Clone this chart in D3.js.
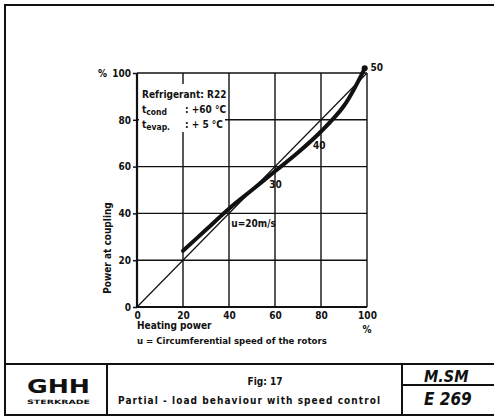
<!doctype html>
<html lang="en">
<head>
<meta charset="utf-8">
<title>Partial-load behaviour</title>
<script src="https://cdn.jsdelivr.net/npm/d3@7"></script>
<style>
  body { margin: 0; background: #fff; }
  text { font-family: "DejaVu Sans Condensed", "DejaVu Sans", sans-serif; fill: #111; }
</style>
</head>
<body>
<svg id="chart" width="494" height="418"></svg>
<script>
// data
var heatingPower = [20, 30, 40, 50, 60, 70, 80, 90, 99];
var couplingPower = [24, 33, 42, 50, 58, 66, 75, 86, 102];
var diagonal = [0, 100];
var tickValues = [0, 20, 40, 60, 80, 100];
var speedLabels = ["u=20m/s", "30", "40", "50"];
var speedLabelX = [41, 57.5, 76.5, 101.5];
var speedLabelY = [34, 51, 67.5, 101];
var infoLines = ["Refrigerant: R22", "t", "t"];

var svg = d3.select("#chart");
var ink = "#111";

// outer frame and title block
svg.append("path")
  .attr("d", "M4,5H494 M5,5V416 M5,364H494 M5,415H494 M107,364V415 M402,364V415 M402,385H494")
  .attr("fill", "none").attr("stroke", ink).attr("stroke-width", 2);

var x = d3.scaleLinear().domain([0, 100]).range([137, 367]);
var y = d3.scaleLinear().domain([0, 100]).range([307, 73]);

// grid
var g = svg.append("g");
tickValues.forEach(function(t) {
  g.append("line").attr("x1", x(t)).attr("x2", x(t)).attr("y1", y(0)).attr("y2", y(100))
    .attr("stroke", ink).attr("stroke-width", t == 0 ? 2.2 : 1.4);
  g.append("line").attr("x1", x(0)).attr("x2", x(100)).attr("y1", y(t)).attr("y2", y(t))
    .attr("stroke", ink).attr("stroke-width", t == 0 ? 2.2 : 1.4);
});

// axes ticks + labels
var yAxis = d3.axisLeft(y).tickValues(tickValues).tickSize(4).tickPadding(2);
var yG = svg.append("g").attr("transform", "translate(" + x(0) + ",0)").call(yAxis);
var xAxis = d3.axisBottom(x).tickValues(tickValues).tickSize(0).tickPadding(5);
var xG = svg.append("g").attr("transform", "translate(0," + y(0) + ")").call(xAxis);
[yG, xG].forEach(function(a) {
  a.select(".domain").remove();
  a.selectAll("line").attr("stroke", ink).attr("stroke-width", 1.5);
  a.selectAll("text").style("font-size", "10px").style("font-weight", "bold")
    .style("font-family", "'DejaVu Sans Condensed', sans-serif").attr("fill", ink);
});
svg.append("text").attr("x", 98).attr("y", y(100) + 4).style("font-size", "10px").style("font-weight", "bold").text("%");
svg.append("text").attr("x", x(100)).attr("y", y(0) + 26).attr("text-anchor", "middle").style("font-size", "10px").style("font-weight", "bold").text("%");

svg.append("text").attr("transform", "translate(111,248) rotate(-90)")
  .attr("text-anchor", "middle").style("font-size", "10px").style("font-weight", "bold").text("Power at coupling");
svg.append("text").attr("x", 137).attr("y", 329).style("font-size", "10px").style("font-weight", "bold").text("Heating power");
svg.append("text").attr("x", 137).attr("y", 344).style("font-size", "9.5px").style("font-weight", "bold").text("u = Circumferential speed of the rotors");

// info box
svg.append("rect").attr("x", 139).attr("y", 84).attr("width", 86).attr("height", 48).attr("fill", "#fff");
var info = svg.append("g").style("font-size", "10px").style("font-weight", "bold");
info.append("text").attr("x", 142).attr("y", 98).text(infoLines[0]);
var t1 = info.append("text").attr("x", 142).attr("y", 113);
t1.append("tspan").text(infoLines[1]);
t1.append("tspan").attr("dy", 2).style("font-size", "8.5px").text("cond");
t1.append("tspan").attr("x", 185).attr("dy", -2).text(": +60 \u00b0C");
var t2 = info.append("text").attr("x", 142).attr("y", 128);
t2.append("tspan").text(infoLines[2]);
t2.append("tspan").attr("dy", 2).style("font-size", "8.5px").text("evap.");
t2.append("tspan").attr("x", 185).attr("dy", -2).text(": +  5 \u00b0C");

// diagonal reference
svg.append("line").attr("x1", x(diagonal[0])).attr("y1", y(diagonal[0]))
  .attr("x2", x(diagonal[1])).attr("y2", y(diagonal[1]))
  .attr("stroke", ink).attr("stroke-width", 1.2);

// partial load curve
var line = d3.line().x(function(d, i) { return x(heatingPower[i]); })
  .y(function(d) { return y(d); }).curve(d3.curveCatmullRom);
svg.append("path").attr("d", line(couplingPower))
  .attr("fill", "none").attr("stroke", ink).attr("stroke-width", 4).attr("stroke-linecap", "round");
svg.append("circle").attr("cx", x(heatingPower[heatingPower.length - 1])).attr("cy", y(couplingPower[couplingPower.length - 1]))
  .attr("r", 3).attr("fill", ink);

svg.append("g").selectAll("text").data(speedLabels).enter().append("text")
  .attr("x", function(d, i) { return x(speedLabelX[i]); })
  .attr("y", function(d, i) { return y(speedLabelY[i]); })
  .style("font-size", "10px").style("font-weight", "bold").text(function(d) { return d; });

// title block text
svg.append("text").attr("x", 27).attr("y", 393)
  .style("font-family", "'DejaVu Sans', sans-serif").style("font-size", "19px").style("font-weight", "900")
  .attr("textLength", 63).attr("lengthAdjust", "spacingAndGlyphs").text("GHH");
svg.append("text").attr("x", 27).attr("y", 404)
  .style("font-family", "'DejaVu Sans', sans-serif").style("font-size", "6px").style("font-weight", "bold")
  .attr("textLength", 63).attr("lengthAdjust", "spacingAndGlyphs").text("STERKRADE");
svg.append("text").attr("x", 265).attr("y", 385).attr("text-anchor", "middle")
  .style("font-size", "10px").style("font-weight", "bold").text("Fig: 17");
svg.append("text").attr("x", 118).attr("y", 404)
  .style("font-size", "10px").style("font-weight", "bold").attr("textLength", 262).text("Partial - load  behaviour  with  speed  control");
svg.append("text").attr("x", 424).attr("y", 382)
  .style("font-size", "16px").style("font-weight", "bold").style("font-style", "italic").text("M.SM");
svg.append("text").attr("x", 424).attr("y", 405)
  .style("font-size", "17px").style("font-weight", "bold").style("font-style", "italic").text("E 269");
</script>
</body>
</html>
